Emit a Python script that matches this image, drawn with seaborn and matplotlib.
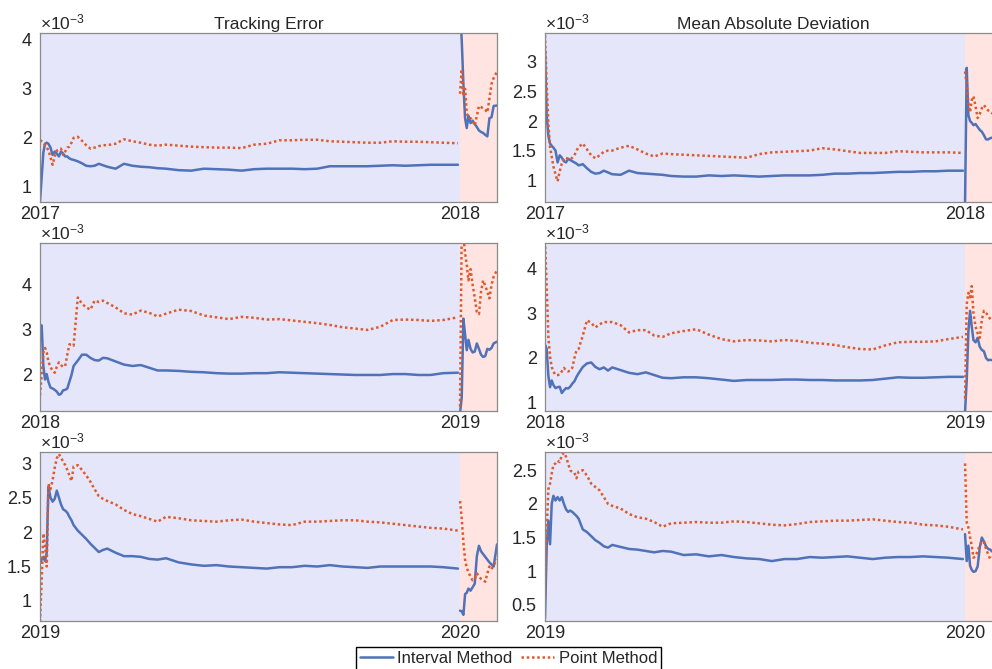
import matplotlib
matplotlib.use('Agg')
import matplotlib.pyplot as plt
from matplotlib.ticker import FuncFormatter
import seaborn as sns

# time within the sample year (0 = start, 1 = next year), out-of-sample after 1
T_IN = [0, 0.004, 0.008, 0.012, 0.016, 0.02, 0.025, 0.03, 0.035, 0.04, 0.045, 0.05,
        0.055, 0.06, 0.065, 0.07, 0.075, 0.08, 0.09, 0.10, 0.11, 0.12, 0.13, 0.14,
        0.15, 0.16, 0.18, 0.20, 0.22, 0.24, 0.26, 0.28, 0.30, 0.33, 0.36, 0.39, 0.42,
        0.45, 0.48, 0.51, 0.54, 0.57, 0.60, 0.63, 0.66, 0.69, 0.72, 0.75, 0.78, 0.81,
        0.84, 0.87, 0.90, 0.93, 0.96, 0.995]
T_OUT = [1.0, 1.004, 1.008, 1.012, 1.016, 1.02, 1.025, 1.03, 1.035, 1.04, 1.045,
         1.05, 1.055, 1.06, 1.065, 1.07, 1.075, 1.08, 1.088]
XMAX = 1.088

# values in units of 1e-3
# Tracking Error 2017
te17_int = [0.7, 1.2, 1.7, 1.88, 1.9, 1.88, 1.8, 1.65, 1.72, 1.68, 1.62, 1.72, 1.68, 1.62, 1.62, 1.58, 1.56, 1.55,
            1.52, 1.48, 1.43, 1.42, 1.43, 1.47, 1.44, 1.41,
            1.37, 1.47, 1.43, 1.41, 1.40, 1.38, 1.37,
            1.34, 1.33, 1.37, 1.36, 1.35, 1.33, 1.36, 1.37, 1.37, 1.37, 1.36, 1.37, 1.42, 1.42, 1.42, 1.42, 1.43, 1.44, 1.43, 1.44, 1.45, 1.45,
            1.45]
te17_pt = [1.95, 1.93, 1.9, 1.85, 1.8, 1.75, 1.6, 1.45, 1.62, 1.74, 1.76, 1.78, 1.65, 1.72, 1.8, 1.82, 1.9, 2.0,
           2.02, 1.94, 1.85, 1.78, 1.8, 1.83, 1.85, 1.85,
           1.88, 1.97, 1.93, 1.9, 1.86, 1.84, 1.86,
           1.84, 1.82, 1.81, 1.8, 1.8, 1.79, 1.86, 1.88, 1.95, 1.95, 1.96, 1.96, 1.93, 1.92, 1.91, 1.9, 1.9, 1.93, 1.92, 1.92, 1.91, 1.9,
           1.89]
te17_int_out = [4.6, 4.0, 3.1, 2.4, 2.2, 2.45, 2.3, 2.35, 2.28, 2.22, 2.15, 2.12, 2.1, 2.06, 2.03, 2.4, 2.42, 2.65, 2.66]
te17_pt_out = [2.9, 3.4, 2.85, 3.0, 2.5, 2.42, 2.4, 2.35, 2.25, 2.45, 2.65, 2.63, 2.6, 2.57, 2.52, 2.8, 3.1, 3.22, 3.35]

# Mean Absolute Deviation 2017
mad17_int = [3.2, 2.1, 1.75, 1.62, 1.58, 1.55, 1.5, 1.3, 1.42, 1.38, 1.32, 1.3, 1.36, 1.34, 1.32, 1.3, 1.28, 1.25,
             1.27, 1.2, 1.14, 1.11, 1.12, 1.16, 1.13, 1.1,
             1.09, 1.16, 1.12, 1.11, 1.1, 1.09, 1.07,
             1.06, 1.06, 1.08, 1.07, 1.08, 1.07, 1.06, 1.07, 1.08, 1.08, 1.08, 1.09, 1.11, 1.11, 1.12, 1.12, 1.13, 1.14, 1.14, 1.15, 1.15, 1.16,
             1.16]
mad17_pt = [3.45, 2.6, 1.96, 1.56, 1.4, 1.23, 1.1, 0.98, 1.15, 1.28, 1.37, 1.38, 1.36, 1.35, 1.38, 1.42, 1.5, 1.56,
            1.62, 1.52, 1.42, 1.37, 1.42, 1.48, 1.5, 1.5,
            1.55, 1.58, 1.52, 1.45, 1.4, 1.45, 1.44,
            1.43, 1.42, 1.41, 1.4, 1.39, 1.38, 1.44, 1.47, 1.48, 1.49, 1.5, 1.54, 1.52, 1.49, 1.46, 1.46, 1.46, 1.49, 1.48, 1.47, 1.47, 1.47,
            1.46]
mad17_int_out = [0.6, 2.9, 2.1, 2.0, 1.97, 1.93, 1.95, 1.9, 1.85, 1.82, 1.76, 1.69, 1.69, 1.71, 1.72, 1.74, 1.75, 1.77, 1.78]
mad17_pt_out = [2.84, 2.6, 2.3, 2.15, 2.35, 2.42, 2.25, 2.05, 2.12, 2.22, 2.27, 2.22, 2.18, 2.15, 2.13, 2.12, 2.1, 2.1, 2.08]

# Tracking Error 2018
te18_int = [3.1, 3.1, 2.2, 1.9, 2.02, 1.85, 1.72, 1.7, 1.67, 1.63, 1.56, 1.58, 1.66, 1.67, 1.7, 1.85, 2.0, 2.2,
            2.32, 2.45, 2.45, 2.38, 2.33, 2.32, 2.38, 2.37,
            2.3, 2.23, 2.2, 2.22, 2.16, 2.1, 2.1,
            2.09, 2.07, 2.06, 2.04, 2.03, 2.03, 2.04, 2.04, 2.06, 2.05, 2.04, 2.03, 2.02, 2.01, 2.0, 2.0, 2.0, 2.02, 2.02, 2.0, 2.0, 2.04,
            2.05]
te18_pt = [1.55, 2.0, 2.5, 2.6, 2.5, 2.3, 2.17, 2.1, 2.05, 2.18, 2.28, 2.22, 2.18, 2.2, 2.45, 2.68, 2.68, 2.65,
           3.72, 3.58, 3.5, 3.45, 3.65, 3.62, 3.65, 3.6,
           3.5, 3.37, 3.34, 3.43, 3.38, 3.3, 3.36,
           3.45, 3.42, 3.32, 3.28, 3.24, 3.29, 3.27, 3.23, 3.24, 3.21, 3.18, 3.15, 3.11, 3.06, 3.03, 3.0, 3.07, 3.22, 3.23, 3.22, 3.2, 3.22,
           3.28]
te18_int_out = [1.15, 1.5, 3.25, 2.9, 2.55, 2.78, 2.58, 2.5, 2.52, 2.7, 2.58, 2.45, 2.4, 2.42, 2.58, 2.56, 2.6, 2.7, 2.74]
te18_pt_out = [1.3, 5.2, 5.1, 4.7, 4.45, 4.1, 4.35, 4.0, 3.72, 3.4, 3.35, 3.85, 4.1, 3.98, 3.85, 3.7, 4.0, 4.18, 4.33]

# Mean Absolute Deviation 2018
mad18_int = [2.3, 2.2, 1.6, 1.35, 1.5, 1.4, 1.33, 1.35, 1.36, 1.22, 1.28, 1.33, 1.32, 1.36, 1.43, 1.48, 1.58, 1.66,
             1.8, 1.88, 1.9, 1.8, 1.75, 1.79, 1.72, 1.79,
             1.73, 1.67, 1.64, 1.68, 1.62, 1.56, 1.55,
             1.57, 1.57, 1.55, 1.52, 1.49, 1.51, 1.51, 1.51, 1.52, 1.52, 1.51, 1.51, 1.5, 1.5, 1.5, 1.51, 1.54, 1.57, 1.56, 1.56, 1.57, 1.58,
             1.58]
mad18_pt = [4.6, 3.6, 2.47, 2.03, 1.8, 1.7, 1.62, 1.62, 1.63, 1.7, 1.78, 1.72, 1.7, 1.72, 1.78, 2.0, 2.17, 2.2,
            2.5, 2.84, 2.78, 2.68, 2.75, 2.8, 2.8, 2.8,
            2.73, 2.57, 2.62, 2.62, 2.5, 2.47, 2.55,
            2.6, 2.64, 2.52, 2.42, 2.37, 2.4, 2.39, 2.37, 2.4, 2.38, 2.34, 2.32, 2.29, 2.24, 2.2, 2.19, 2.28, 2.35, 2.36, 2.36, 2.37, 2.42,
            2.47]
mad18_int_out = [0.8, 1.5, 2.6, 3.05, 2.7, 2.4, 2.35, 2.45, 2.25, 2.18, 2.15, 2.0, 1.95, 1.96, 1.95, 1.97, 2.0, 2.02, 2.05]
mad18_pt_out = [1.1, 3.2, 3.45, 3.35, 3.6, 3.0, 2.7, 2.55, 2.45, 2.85, 3.05, 3.0, 2.95, 2.86, 2.85, 2.8, 2.78, 2.75, 2.72]

# Tracking Error 2019
te19_int = [1.55, 1.6, 1.64, 1.58, 1.7, 2.66, 2.5, 2.44, 2.48, 2.6, 2.5, 2.4, 2.33, 2.31, 2.28, 2.22, 2.17, 2.1,
            2.02, 1.96, 1.9, 1.83, 1.77, 1.71, 1.74, 1.76,
            1.7, 1.65, 1.65, 1.64, 1.61, 1.6, 1.62,
            1.56, 1.53, 1.51, 1.52, 1.5, 1.49, 1.48, 1.47, 1.49, 1.49, 1.51, 1.5, 1.52, 1.5, 1.49, 1.48, 1.5, 1.5, 1.5, 1.5, 1.5, 1.49,
            1.47]
te19_pt = [0.7, 1.3, 1.98, 1.8, 1.5, 2.7, 2.62, 2.75, 2.93, 3.07, 3.13, 3.08, 3.02, 2.97, 2.9, 2.82, 2.74, 2.95,
           2.97, 2.9, 2.82, 2.73, 2.62, 2.52, 2.48, 2.45,
           2.4, 2.32, 2.26, 2.23, 2.19, 2.15, 2.22,
           2.2, 2.17, 2.16, 2.15, 2.17, 2.18, 2.15, 2.13, 2.11, 2.1, 2.15, 2.15, 2.16, 2.17, 2.17, 2.15, 2.14, 2.12, 2.1, 2.08, 2.06, 2.05,
           2.02]
te19_int_out = [0.86, 0.85, 0.8, 1.1, 1.12, 1.18, 1.15, 1.2, 1.25, 1.65, 1.8, 1.72, 1.68, 1.64, 1.6, 1.56, 1.53, 1.5, 1.82]
te19_pt_out = [2.45, 2.2, 1.85, 1.6, 1.48, 1.42, 1.35, 1.3, 1.32, 1.4, 1.36, 1.32, 1.3, 1.28, 1.4, 1.5, 1.46, 1.52, 1.6]

# Mean Absolute Deviation 2019
mad19_int = [0.3, 1.37, 1.75, 1.4, 2.0, 2.12, 2.05, 2.1, 2.05, 2.1, 2.0, 1.92, 1.88, 1.9, 1.88, 1.85, 1.82, 1.78,
             1.62, 1.58, 1.52, 1.46, 1.42, 1.37, 1.35, 1.39,
             1.36, 1.33, 1.32, 1.3, 1.28, 1.3, 1.29,
             1.24, 1.25, 1.22, 1.24, 1.21, 1.19, 1.18, 1.15, 1.18, 1.18, 1.21, 1.2, 1.21, 1.22, 1.2, 1.18, 1.2, 1.21, 1.21, 1.22, 1.21, 1.2,
             1.18]
mad19_pt = [0.65, 1.6, 2.22, 2.3, 2.45, 2.58, 2.6, 2.64, 2.62, 2.72, 2.76, 2.7, 2.6, 2.5, 2.47, 2.46, 2.38, 2.48,
            2.5, 2.42, 2.3, 2.25, 2.2, 2.1, 2.0, 1.97,
            1.93, 1.85, 1.8, 1.78, 1.73, 1.66, 1.71,
            1.72, 1.73, 1.72, 1.72, 1.74, 1.73, 1.71, 1.69, 1.68, 1.7, 1.73, 1.74, 1.75, 1.75, 1.76, 1.77, 1.75, 1.73, 1.72, 1.69, 1.68, 1.66,
            1.62]
mad19_int_out = [1.55, 1.15, 1.38, 1.08, 1.02, 0.99, 1.0, 1.07, 1.35, 1.5, 1.44, 1.37, 1.33, 1.32, 1.29, 1.27, 1.25, 1.24, 1.22]
mad19_pt_out = [2.6, 1.72, 1.65, 1.5, 1.38, 1.2, 1.22, 1.3, 1.38, 1.44, 1.44, 1.33, 1.25, 1.18, 1.2, 1.22, 1.24, 1.25, 1.26]

years = [2017, 2018, 2019]
titles = ['Tracking Error', 'Mean Absolute Deviation']
ylims = [[(0.69, 4.14), (0.63, 3.49)],
         [(1.2, 4.93), (0.82, 4.56)],
         [(0.71, 3.16), (0.26, 2.77)]]
yticks = [[[1, 2, 3, 4], [1, 1.5, 2, 2.5, 3]],
          [[2, 3, 4], [1, 2, 3, 4]],
          [[1, 1.5, 2, 2.5, 3], [0.5, 1, 1.5, 2, 2.5]]]
series = [[(te17_int, te17_pt, te17_int_out, te17_pt_out), (mad17_int, mad17_pt, mad17_int_out, mad17_pt_out)],
          [(te18_int, te18_pt, te18_int_out, te18_pt_out), (mad18_int, mad18_pt, mad18_int_out, mad18_pt_out)],
          [(te19_int, te19_pt, te19_int_out, te19_pt_out), (mad19_int, mad19_pt, mad19_int_out, mad19_pt_out)]]

sns.set_style('white')
plt.rcParams['font.family'] = ['Liberation Sans', 'DejaVu Sans']
plt.rcParams['mathtext.fontset'] = 'custom'
plt.rcParams['mathtext.rm'] = 'Liberation Sans'
plt.rcParams['mathtext.it'] = 'Liberation Sans:italic'

BLUE = '#4f72b8'
ORANGE = '#de5a2c'
IN_BG = '#e6e6fa'
OUT_BG = '#ffe4e1'
TXT = '#262626'
DOTS = (0, (1, 1.1))

fig = plt.figure(figsize=(9.92, 6.69), dpi=100)
lefts = [40 / 992, 545 / 992]
bottoms = [(669 - 202) / 669, (669 - 411) / 669, (669 - 621) / 669]
heights = [169 / 669, 168 / 669, 169 / 669]
width = 457 / 992

handles = None
for r in range(3):
    for c in range(2):
        ax = fig.add_axes([lefts[c], bottoms[r], width, heights[r]])
        ax.axvspan(0, 1, color=IN_BG, lw=0, zorder=0)
        ax.axvspan(1, XMAX, color=OUT_BG, lw=0, zorder=0)
        v_int, v_pt, v_int_out, v_pt_out = series[r][c]
        sns.lineplot(x=T_IN, y=v_int, ax=ax, color=BLUE, lw=1.8, label='Interval Method')
        sns.lineplot(x=T_IN, y=v_pt, ax=ax, color=ORANGE, lw=1.8, linestyle=DOTS, label='Point Method')
        sns.lineplot(x=T_OUT, y=v_int_out, ax=ax, color=BLUE, lw=1.8)
        sns.lineplot(x=T_OUT, y=v_pt_out, ax=ax, color=ORANGE, lw=1.8, linestyle=DOTS)
        if ax.get_legend() is not None:
            if handles is None:
                handles = ax.get_lines()[:2]
            ax.get_legend().remove()

        ax.set_xlim(0, XMAX)
        ax.set_ylim(*ylims[r][c])
        ax.set_xticks([0, 1])
        ax.set_xticklabels([str(years[r]), str(years[r] + 1)])
        ax.set_yticks(yticks[r][c])
        ax.yaxis.set_major_formatter(FuncFormatter(lambda v, p: '%g' % v))
        ax.tick_params(length=0, labelsize=13, colors=TXT)
        ax.tick_params(axis='y', pad=6)
        ax.tick_params(axis='x', pad=3)
        ax.set_xlabel('')
        ax.set_ylabel('')
        for s in ax.spines.values():
            s.set_color('#8a8a8a')
            s.set_linewidth(0.9)
        ax.text(0.0, 1.005, r'$\times10^{-3}$', transform=ax.transAxes,
                ha='left', va='bottom', fontsize=12.5, color=TXT)
        if r == 0:
            ax.set_title(titles[c], fontsize=12.5, pad=3)

leg = fig.legend(handles, ['Interval Method', 'Point Method'], loc='upper center',
                 bbox_to_anchor=(508.5 / 992, 1 - 647 / 669), ncol=2, frameon=True,
                 fancybox=False, edgecolor='black', framealpha=1, fontsize=12,
                 handlelength=2.0, handletextpad=0.25, columnspacing=0.5,
                 borderpad=0.25, borderaxespad=0)
leg.get_frame().set_linewidth(1.0)

fig.savefig('out.png', dpi=100)
